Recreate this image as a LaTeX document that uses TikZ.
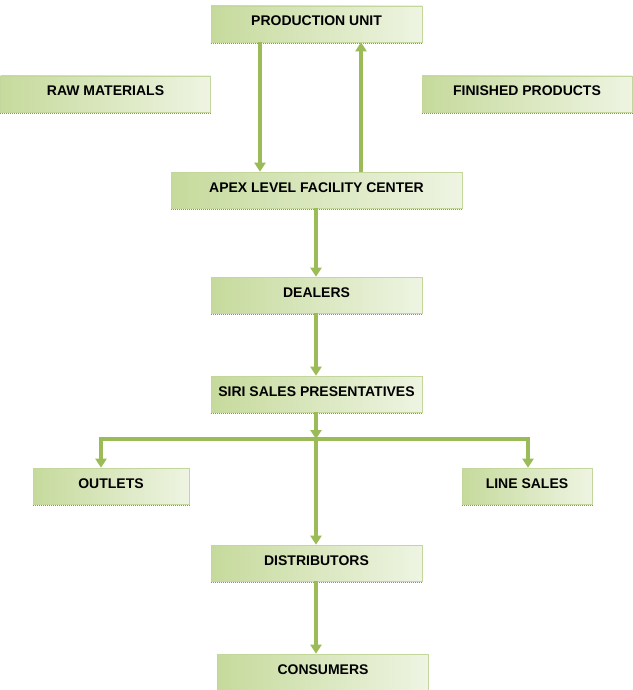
\documentclass[tikz,border=0pt]{standalone}
\usepackage{fontspec}
\setmainfont{Liberation Sans}
\usetikzlibrary{arrows.meta}
\definecolor{linegreen}{HTML}{9BBB59}
\definecolor{boxedge}{HTML}{C3D69B}
\definecolor{shadeA}{HTML}{C6DA9C}
\definecolor{shadeB}{HTML}{EEF4E2}
\definecolor{shadowgray}{HTML}{8C8C8C}
\tikzset{
  box/.style={draw=boxedge, line width=0.6pt, left color=shadeA, right color=shadeB,
    minimum height=36pt, inner sep=0pt, text=black, text height=10pt, text depth=6pt,
    font=\fontsize{14}{16}\selectfont\bfseries},
  link/.style={draw=linegreen, line width=3.6pt},
  arr/.style={link, -{Triangle[width=11pt,length=9pt]}},
  shadowline/.style={draw=shadowgray, line width=1pt, densely dotted}
}
\begin{document}
\begin{tikzpicture}[x=1pt,y=-1pt]
\useasboundingbox (0,0) rectangle (632,690);
\node[box, minimum width=211pt] (prod) at (316.5,24) {PRODUCTION UNIT};
\node[box, minimum width=210pt] (raw) at (105.5,94) {RAW MATERIALS};
\node[box, minimum width=210pt] (fin) at (527,94) {FINISHED PRODUCTS};
\node[box, minimum width=291pt] (apex) at (316.5,190) {APEX LEVEL FACILITY CENTER};
\node[box, minimum width=211pt] (deal) at (316.5,295) {DEALERS};
\node[box, minimum width=211pt] (siri) at (316.5,394) {SIRI SALES PRESENTATIVES};
\node[box, minimum width=156pt] (outl) at (111,486) {OUTLETS};
\node[box, minimum width=130pt] (lines) at (527,486) {LINE SALES};
\node[box, minimum width=211pt] (dist) at (316.5,563) {DISTRIBUTORS};
\node[box, minimum width=211pt] (cons) at (323,672) {CONSUMERS};
\foreach \n in {prod,raw,fin,apex,deal,siri,outl,lines,dist,cons}{
  \draw[shadowline] ([yshift=-1.5pt]\n.south west) -- ([yshift=-1.5pt]\n.south east);
}
\coordinate (down) at (260,0);
\coordinate (up) at (361,0);
\coordinate (mid) at (316,0);
\coordinate (j) at (316,439);
\coordinate (jl) at (101,439);
\coordinate (jr) at (528,439);
\draw[arr] (prod.south -| down) -- (apex.north -| down);
\draw[arr] (apex.north -| up) -- (prod.south -| up);
\draw[arr] (apex.south -| mid) -- (deal.north -| mid);
\draw[arr] (deal.south -| mid) -- (siri.north -| mid);
\draw[arr] (siri.south -| mid) -- (j);
\draw[link, line cap=rect] (jl) -- (jr);
\draw[arr] (jl) -- (outl.north -| jl);
\draw[arr] (jr) -- (lines.north -| jr);
\draw[arr] (j) -- (dist.north -| mid);
\draw[arr] (dist.south -| mid) -- (cons.north -| mid);
\end{tikzpicture}
\end{document}
